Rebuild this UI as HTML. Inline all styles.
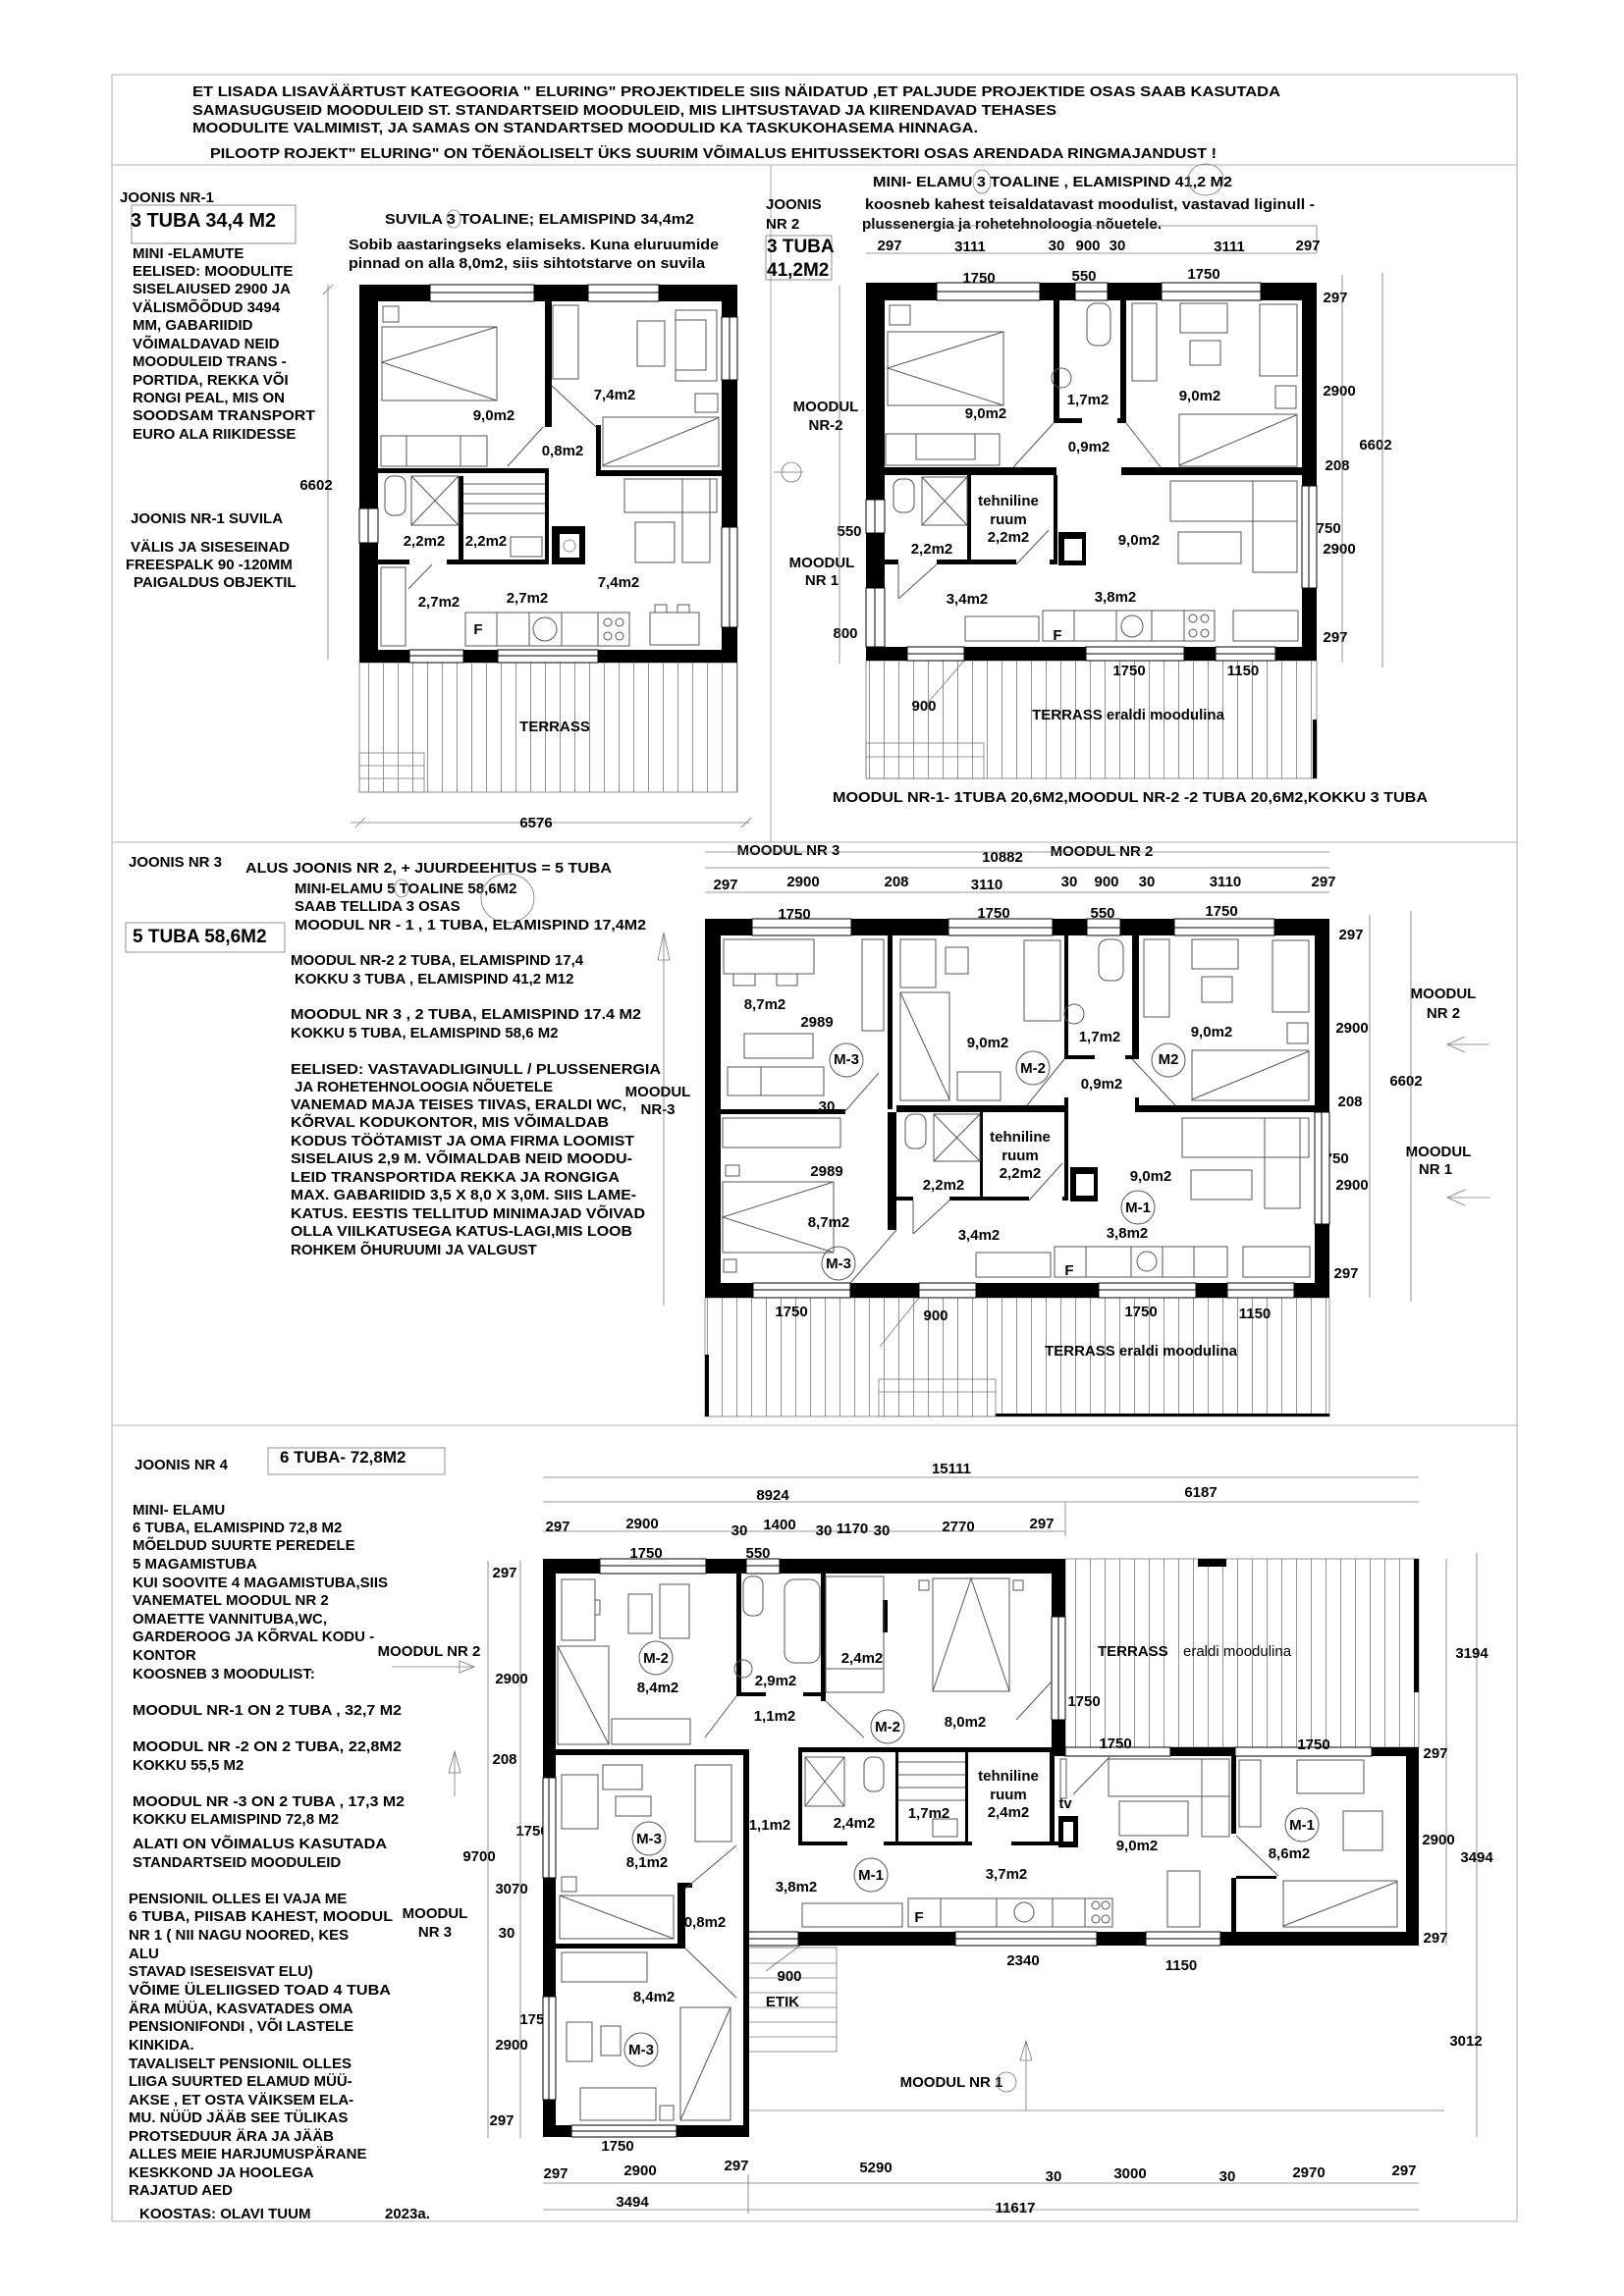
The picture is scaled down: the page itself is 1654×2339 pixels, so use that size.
<!DOCTYPE html>
<html><head><meta charset="utf-8"><style>
html,body{margin:0;padding:0;background:#fff}
svg{display:block}
text{font-family:"Liberation Sans",Arial,sans-serif;font-weight:bold;font-size:15px;fill:#000}
.m{text-anchor:middle}
.f{fill:none;stroke:#555;stroke-width:1}
.l{stroke:#000;stroke-width:1;fill:none}
.g{stroke:#777;stroke-width:0.8;fill:none}
.w{fill:#fff;stroke:#000;stroke-width:1}
</style></head><body>
<svg width="1654" height="2339" viewBox="0 0 1654 2339" xmlns="http://www.w3.org/2000/svg">
<defs>
<pattern id="ter" width="15" height="20" patternUnits="userSpaceOnUse"><line x1="0.5" y1="0" x2="0.5" y2="20" stroke="#777" stroke-width="0.8"/></pattern>
</defs>
<rect width="1654" height="2339" fill="#fff"/>
<!-- frame -->
<g class="g" style="stroke:#999">
<line x1="114" y1="76" x2="1545" y2="76"/><line x1="114" y1="76" x2="114" y2="2263"/><line x1="1545" y1="76" x2="1545" y2="2263"/>
<line x1="114" y1="2263" x2="1545" y2="2263"/><line x1="114" y1="168" x2="1545" y2="168"/><line x1="785" y1="168" x2="785" y2="858"/>
<line x1="114" y1="858" x2="1545" y2="858"/><line x1="114" y1="1452" x2="1545" y2="1452"/>
</g>
<!-- header -->
<g style="font-size:13px">
<text x="196" y="98" textLength="1108" lengthAdjust="spacingAndGlyphs">ET  LISADA LISAVÄÄRTUST  KATEGOORIA " ELURING"  PROJEKTIDELE SIIS NÄIDATUD ,ET PALJUDE PROJEKTIDE OSAS SAAB      KASUTADA</text>
<text x="196" y="117" textLength="880" lengthAdjust="spacingAndGlyphs">SAMASUGUSEID MOODULEID ST. STANDARTSEID MOODULEID, MIS LIHTSUSTAVAD JA KIIRENDAVAD TEHASES</text>
<text x="196" y="135" textLength="800" lengthAdjust="spacingAndGlyphs">MOODULITE VALMIMIST, JA SAMAS  ON STANDARTSED MOODULID  KA TASKUKOHASEMA HINNAGA.</text>
<text x="214" y="161" textLength="1025" lengthAdjust="spacingAndGlyphs">PILOOTP ROJEKT" ELURING" ON TÕENÄOLISELT ÜKS SUURIM VÕIMALUS EHITUSSEKTORI OSAS ARENDADA RINGMAJANDUST !</text>
</g>

<!-- ROW 1 LEFT TEXT -->
<text x="122" y="206">JOONIS NR-1</text>
<rect x="134" y="209" width="167" height="39" class="g"/>
<text x="133" y="231" style="font-size:20px" textLength="148" lengthAdjust="spacingAndGlyphs">3 TUBA 34,4 M2</text>
<g>
<text x="135" y="263">MINI -ELAMUTE</text>
<text x="135" y="281">EELISED: MOODULITE</text>
<text x="135" y="299">SISELAIUSED 2900 JA</text>
<text x="135" y="318">VÄLISMÕÕDUD 3494</text>
<text x="135" y="336">MM, GABARIIDID</text>
<text x="135" y="355">VÕIMALDAVAD NEID</text>
<text x="135" y="373">MOODULEID TRANS -</text>
<text x="135" y="392">PORTIDA, REKKA VÕI</text>
<text x="135" y="410">RONGI PEAL, MIS ON</text>
<text x="135" y="428" textLength="186" lengthAdjust="spacingAndGlyphs">SOODSAM TRANSPORT</text>
<text x="135" y="447">EURO ALA RIIKIDESSE</text>
<text x="133" y="533">JOONIS NR-1 SUVILA</text>
<text x="133" y="562">VÄLIS JA SISESEINAD</text>
<text x="128" y="580">FREESPALK 90 -120MM</text>
<text x="136" y="598">PAIGALDUS OBJEKTIL</text>
</g>
<text x="392" y="228" textLength="315" lengthAdjust="spacingAndGlyphs">SUVILA  3 TOALINE; ELAMISPIND 34,4m2</text>
<ellipse cx="462" cy="223" rx="7" ry="9" class="g"/>
<text x="355" y="254" textLength="377" lengthAdjust="spacingAndGlyphs">Sobib aastaringseks elamiseks. Kuna eluruumide</text>
<text x="355" y="273" textLength="363" lengthAdjust="spacingAndGlyphs">pinnad on alla 8,0m2, siis sihtotstarve on suvila</text>

<!-- PLAN 1 -->
<rect x="366" y="675" width="385" height="132" fill="url(#ter)" stroke="#777" stroke-width="0.8"/>
<rect x="366" y="767" width="66" height="40" fill="#fff" class="g"/>
<line x1="366" y1="780" x2="432" y2="780" class="g"/><line x1="366" y1="793" x2="432" y2="793" class="g"/>
<text x="565" y="745" class="m">TERRASS</text>
<line x1="357" y1="838" x2="764" y2="838" class="g"/><line x1="362" y1="843" x2="372" y2="833" class="g"/><line x1="755" y1="843" x2="765" y2="833" class="g"/>
<text x="546" y="843" class="m">6576</text>
<line x1="334" y1="290" x2="334" y2="672" class="g"/><line x1="329" y1="300" x2="339" y2="290" class="g"/>
<text x="322" y="499" class="m">6602</text>
<!-- windows -->
<g class="w">
<rect x="438" y="290" width="106" height="17"/><rect x="599" y="290" width="72" height="17"/>
<rect x="417" y="662" width="55" height="13"/><rect x="507" y="662" width="102" height="13"/>
<rect x="366" y="518" width="19" height="35"/><rect x="735" y="323" width="16" height="64"/><rect x="735" y="537" width="16" height="102"/>
</g>
<g class="l">
<line x1="438" y1="298" x2="544" y2="298"/><line x1="599" y1="298" x2="671" y2="298"/>
<line x1="417" y1="668" x2="472" y2="668"/><line x1="507" y1="668" x2="609" y2="668"/>
<line x1="375" y1="518" x2="375" y2="553"/><line x1="743" y1="323" x2="743" y2="387"/><line x1="743" y1="537" x2="743" y2="639"/>
</g>
<g fill="#000">
<rect x="366" y="290" width="72" height="17"/><rect x="544" y="290" width="55" height="17"/><rect x="671" y="290" width="80" height="17"/>
<rect x="366" y="662" width="51" height="13"/><rect x="472" y="662" width="35" height="13"/><rect x="609" y="662" width="142" height="13"/>
<rect x="366" y="290" width="19" height="228"/><rect x="366" y="553" width="19" height="122"/>
<rect x="735" y="290" width="16" height="33"/><rect x="735" y="387" width="16" height="150"/><rect x="735" y="639" width="16" height="36"/>
<rect x="555" y="307" width="7" height="128"/><rect x="607" y="433" width="5" height="52"/><rect x="607" y="479" width="128" height="6"/>
<rect x="385" y="477" width="173" height="5"/><rect x="555" y="477" width="4" height="98"/>
<rect x="385" y="570" width="32" height="5"/><rect x="455" y="570" width="104" height="5"/><rect x="467" y="485" width="5" height="90"/>
<rect x="562" y="536" width="34" height="39"/>
</g>
<rect x="570" y="544" width="20" height="24" fill="#fff"/><circle cx="580" cy="556" r="6" class="g"/>
<g class="f">
<rect x="390" y="312" width="16" height="16"/>
<rect x="389" y="333" width="117" height="75"/><polyline points="506,333 389,369 506,408"/>
<rect x="388" y="444" width="108" height="31"/><rect x="414" y="444" width="55" height="31"/>
<rect x="563" y="311" width="26" height="75"/>
<rect x="649" y="327" width="28" height="46"/><rect x="688" y="316" width="42" height="72"/><rect x="688" y="326" width="31" height="51"/>
<rect x="708" y="401" width="23" height="19"/>
<rect x="614" y="425" width="118" height="50"/><line x1="614" y1="474" x2="731" y2="426"/>
<rect x="392" y="485" width="21" height="40" rx="8"/><rect x="419" y="485" width="48" height="50"/><line x1="419" y1="485" x2="467" y2="535"/><line x1="467" y1="485" x2="419" y2="535"/>
<line x1="472" y1="493" x2="555" y2="493"/><line x1="472" y1="503" x2="555" y2="503"/><line x1="472" y1="513" x2="555" y2="513"/><line x1="472" y1="523" x2="555" y2="523"/>
<rect x="520" y="547" width="32" height="20"/>
<rect x="636" y="488" width="94" height="34"/><rect x="695" y="488" width="28" height="85"/><rect x="647" y="532" width="40" height="41"/>
<rect x="474" y="624" width="167" height="34"/><line x1="506" y1="624" x2="506" y2="658"/><line x1="539" y1="624" x2="539" y2="658"/><line x1="572" y1="624" x2="572" y2="658"/><line x1="609" y1="624" x2="609" y2="658"/>
<circle cx="555" cy="641" r="12"/><circle cx="619" cy="634" r="4"/><circle cx="631" cy="634" r="4"/><circle cx="619" cy="648" r="4"/><circle cx="631" cy="648" r="4"/>
<rect x="662" y="624" width="50" height="33"/><rect x="667" y="616" width="12" height="8"/><rect x="690" y="616" width="12" height="8"/>
<rect x="388" y="578" width="25" height="80"/>
<line x1="553" y1="435" x2="517" y2="475"/><line x1="562" y1="393" x2="607" y2="435"/><line x1="440" y1="575" x2="416" y2="600"/>
</g>
<text x="503" y="428" class="m">9,0m2</text><text x="626" y="407" class="m">7,4m2</text><text x="573" y="464" class="m">0,8m2</text>
<text x="432" y="556" class="m">2,2m2</text><text x="495" y="556" class="m">2,2m2</text><text x="630" y="598" class="m">7,4m2</text>
<text x="447" y="618" class="m">2,7m2</text><text x="537" y="614" class="m">2,7m2</text><text x="487" y="646" class="m">F</text>

<!-- ROW 1 RIGHT TEXT -->
<text x="889" y="190" textLength="366" lengthAdjust="spacingAndGlyphs">MINI- ELAMU  3 TOALINE , ELAMISPIND 41,2 M2</text>
<ellipse cx="1000" cy="185" rx="9" ry="12" class="g"/><ellipse cx="1228" cy="183" rx="18" ry="16" class="g"/>
<text x="780" y="213">JOONIS</text><text x="780" y="233">NR 2</text>
<text x="881" y="213" textLength="458" lengthAdjust="spacingAndGlyphs">koosneb kahest teisaldatavast moodulist, vastavad liginull -</text>
<text x="878" y="233" textLength="305" lengthAdjust="spacingAndGlyphs">plussenergia ja rohetehnoloogia nõuetele.</text>
<rect x="780" y="240" width="67" height="45" class="g"/>
<text x="781" y="257" style="font-size:19px">3 TUBA</text><text x="781" y="281" style="font-size:19px">41,2M2</text>
<line x1="882" y1="258" x2="1341" y2="258" class="g"/><line x1="1341" y1="258" x2="1341" y2="230" class="g"/><line x1="882" y1="230" x2="1341" y2="230" class="g"/>
<g class="m"><text x="906" y="255">297</text><text x="988" y="256">3111</text><text x="1076" y="255">30</text><text x="1108" y="255">900</text><text x="1138" y="255">30</text><text x="1252" y="256">3111</text><text x="1332" y="255">297</text>
<text x="997" y="288">1750</text><text x="1104" y="286">550</text><text x="1226" y="284">1750</text>
<text x="1360" y="308">297</text><text x="1364" y="403">2900</text><text x="1401" y="458">6602</text><text x="1362" y="479">208</text><text x="1349" y="543">1750</text><text x="1364" y="564">2900</text><text x="1360" y="654">297</text>
<text x="841" y="419">MOODUL</text><text x="841" y="438">NR-2</text><text x="865" y="546">550</text><text x="837" y="578">MOODUL</text><text x="837" y="596">NR 1</text><text x="861" y="650">800</text>
</g>
<line x1="1367" y1="280" x2="1367" y2="675" class="g"/><line x1="1408" y1="278" x2="1408" y2="680" class="g"/><line x1="855" y1="291" x2="855" y2="676" class="g"/>
<circle cx="806" cy="481" r="10" class="g"/><line x1="788" y1="481" x2="818" y2="481" class="g"/>
<!-- PLAN 2 -->
<rect x="882" y="673" width="459" height="120" fill="url(#ter)" stroke="#777" stroke-width="0.8"/>
<rect x="882" y="757" width="120" height="36" fill="#fff" class="g"/><line x1="882" y1="771" x2="1002" y2="771" class="g"/>
<rect x="1337" y="733" width="4" height="60" fill="#000"/>
<line x1="944" y1="717" x2="982" y2="673" class="g"/>
<g class="w">
<rect x="954" y="288" width="105" height="18"/><rect x="1095" y="288" width="33" height="18"/><rect x="1183" y="288" width="101" height="18"/>
<rect x="924" y="659" width="58" height="14"/><rect x="1106" y="659" width="100" height="14"/><rect x="1238" y="659" width="61" height="14"/>
<rect x="882" y="509" width="19" height="34"/><rect x="882" y="599" width="19" height="60"/><rect x="1326" y="495" width="15" height="104"/>
</g>
<g class="l">
<line x1="954" y1="297" x2="1059" y2="297"/><line x1="1095" y1="297" x2="1128" y2="297"/><line x1="1183" y1="297" x2="1284" y2="297"/>
<line x1="924" y1="666" x2="982" y2="666"/><line x1="1106" y1="666" x2="1206" y2="666"/><line x1="1238" y1="666" x2="1299" y2="666"/>
<line x1="891" y1="509" x2="891" y2="543"/><line x1="891" y1="599" x2="891" y2="659"/><line x1="1333" y1="495" x2="1333" y2="599"/>
</g>
<g fill="#000">
<rect x="882" y="288" width="72" height="18"/><rect x="1059" y="288" width="36" height="18"/><rect x="1128" y="288" width="55" height="18"/><rect x="1284" y="288" width="57" height="18"/>
<rect x="882" y="659" width="42" height="14"/><rect x="982" y="659" width="124" height="14"/><rect x="1206" y="659" width="32" height="14"/><rect x="1299" y="659" width="42" height="14"/>
<rect x="882" y="288" width="19" height="221"/><rect x="882" y="543" width="19" height="56"/>
<rect x="1326" y="288" width="15" height="207"/><rect x="1326" y="599" width="15" height="74"/>
<rect x="1073" y="306" width="6" height="125"/><rect x="1141" y="306" width="6" height="125"/><rect x="1073" y="426" width="29" height="5"/><rect x="1138" y="426" width="9" height="5"/>
<rect x="901" y="476" width="175" height="8"/><rect x="1142" y="476" width="184" height="8"/>
<rect x="901" y="570" width="14" height="5"/><rect x="954" y="570" width="81" height="5"/><rect x="1069" y="570" width="8" height="5"/>
<rect x="985" y="484" width="4" height="86"/><rect x="1073" y="484" width="4" height="91"/>
<rect x="1078" y="542" width="28" height="34"/>
</g>
<rect x="1084" y="549" width="18" height="22" fill="#fff"/>
<g class="f">
<rect x="906" y="311" width="21" height="20"/>
<rect x="904" y="338" width="118" height="75"/><polyline points="1022,338 904,375 1022,413"/>
<rect x="902" y="442" width="116" height="32"/><rect x="933" y="442" width="60" height="26"/>
<rect x="1107" y="309" width="24" height="43" rx="9"/><circle cx="1081" cy="385" r="10"/>
<rect x="1153" y="309" width="25" height="79"/><rect x="1202" y="309" width="48" height="30"/><rect x="1212" y="347" width="31" height="25"/>
<rect x="1283" y="310" width="38" height="73"/><rect x="1299" y="393" width="21" height="23"/>
<rect x="1201" y="422" width="120" height="53"/><line x1="1201" y1="474" x2="1320" y2="423"/>
<line x1="1073" y1="431" x2="1032" y2="476"/><line x1="1147" y1="431" x2="1182" y2="476"/>
<rect x="910" y="488" width="21" height="34" rx="8"/><rect x="939" y="486" width="46" height="49"/><line x1="939" y1="486" x2="985" y2="535"/><line x1="985" y1="486" x2="939" y2="535"/>
<rect x="1192" y="490" width="129" height="41"/><rect x="1276" y="490" width="45" height="93"/><rect x="1200" y="542" width="64" height="32"/>
<rect x="1062" y="622" width="175" height="31"/><line x1="1094" y1="622" x2="1094" y2="653"/><line x1="1137" y1="622" x2="1137" y2="653"/><line x1="1173" y1="622" x2="1173" y2="653"/><line x1="1206" y1="622" x2="1206" y2="653"/>
<circle cx="1153" cy="638" r="11"/><circle cx="1215" cy="630" r="4"/><circle cx="1227" cy="630" r="4"/><circle cx="1215" cy="645" r="4"/><circle cx="1227" cy="645" r="4"/>
<rect x="983" y="628" width="75" height="25"/><rect x="1256" y="622" width="66" height="31"/>
<line x1="915" y1="575" x2="915" y2="610"/><line x1="915" y1="610" x2="954" y2="575"/><line x1="1035" y1="575" x2="1068" y2="540"/>
</g>
<g class="m"><text x="1004" y="426">9,0m2</text><text x="1108" y="412">1,7m2</text><text x="1222" y="408">9,0m2</text><text x="1109" y="460">0,9m2</text>
<text x="1027" y="515">tehniline</text><text x="1027" y="534">ruum</text><text x="1027" y="552">2,2m2</text><text x="949" y="564">2,2m2</text><text x="1160" y="555">9,0m2</text>
<text x="985" y="615">3,4m2</text><text x="1136" y="613">3,8m2</text><text x="1077" y="652">F</text>
<text x="1150" y="688">1750</text><text x="1266" y="688">1150</text><text x="941" y="724">900</text><text x="1149" y="733">TERRASS eraldi moodulina</text></g>
<text x="848" y="817" textLength="606" lengthAdjust="spacingAndGlyphs">MOODUL NR-1- 1TUBA 20,6M2,MOODUL NR-2 -2 TUBA 20,6M2,KOKKU 3 TUBA</text>

<!-- ROW 2 TEXT -->
<text x="131" y="883">JOONIS NR 3</text>
<text x="250" y="889" textLength="373" lengthAdjust="spacingAndGlyphs">ALUS JOONIS NR 2,  + JUURDEEHITUS = 5 TUBA</text>
<text x="300" y="910">MINI-ELAMU  5 TOALINE 58,6M2</text>
<ellipse cx="409" cy="905" rx="7" ry="9" class="g"/><ellipse cx="517" cy="915" rx="27" ry="25" class="g"/>
<text x="300" y="928">SAAB TELLIDA 3 OSAS</text>
<text x="300" y="947" textLength="358" lengthAdjust="spacingAndGlyphs">MOODUL NR - 1 , 1 TUBA, ELAMISPIND 17,4M2</text>
<rect x="128" y="940" width="162" height="30" class="g"/>
<text x="135" y="960" style="font-size:19px">5 TUBA 58,6M2</text>
<text x="296" y="983">MOODUL NR-2   2 TUBA, ELAMISPIND  17,4</text>
<text x="300" y="1002">KOKKU 3 TUBA , ELAMISPIND 41,2 M12</text>
<text x="296" y="1038" textLength="357" lengthAdjust="spacingAndGlyphs">MOODUL NR 3 , 2 TUBA, ELAMISPIND  17.4 M2</text>
<text x="296" y="1057">KOKKU  5 TUBA, ELAMISPIND 58,6 M2</text>
<g>
<text x="296" y="1094" textLength="377" lengthAdjust="spacingAndGlyphs">EELISED:  VASTAVADLIGINULL / PLUSSENERGIA</text>
<text x="300" y="1112">JA ROHETEHNOLOOGIA NÕUETELE</text>
<text x="296" y="1130" textLength="342" lengthAdjust="spacingAndGlyphs">VANEMAD MAJA TEISES  TIIVAS, ERALDI WC,</text>
<text x="296" y="1148" textLength="324" lengthAdjust="spacingAndGlyphs">KÕRVAL KODUKONTOR, MIS VÕIMALDAB</text>
<text x="296" y="1167" textLength="350" lengthAdjust="spacingAndGlyphs">KODUS TÖÖTAMIST JA OMA FIRMA LOOMIST</text>
<text x="296" y="1185" textLength="348" lengthAdjust="spacingAndGlyphs">SISELAIUS 2,9 M. VÕIMALDAB NEID MOODU-</text>
<text x="296" y="1204" textLength="335" lengthAdjust="spacingAndGlyphs">LEID TRANSPORTIDA  REKKA JA RONGIGA</text>
<text x="296" y="1222" textLength="352" lengthAdjust="spacingAndGlyphs">MAX. GABARIIDID 3,5 X 8,0 X 3,0M. SIIS LAME-</text>
<text x="296" y="1241" textLength="361" lengthAdjust="spacingAndGlyphs">KATUS. EESTIS TELLITUD MINIMAJAD VÕIVAD</text>
<text x="296" y="1259" textLength="348" lengthAdjust="spacingAndGlyphs">OLLA VIILKATUSEGA KATUS-LAGI,MIS LOOB</text>
<text x="296" y="1278">ROHKEM ÕHURUUMI JA VALGUST</text>
</g>
<text x="670" y="1117" class="m">MOODUL</text><text x="670" y="1135" class="m">NR-3</text>
<line x1="676" y1="950" x2="676" y2="1330" class="g"/><polygon points="676,950 670,978 682,978" class="g"/>
<!-- PLAN 3 dims -->
<g class="m"><text x="803" y="871">MOODUL NR 3</text><text x="1021" y="878">10882</text><text x="1122" y="872">MOODUL NR 2</text>
<text x="739" y="906">297</text><text x="818" y="903">2900</text><text x="913" y="903">208</text><text x="1005" y="906">3110</text><text x="1089" y="903">30</text><text x="1127" y="903">900</text><text x="1168" y="903">30</text><text x="1248" y="903">3110</text><text x="1348" y="903">297</text>
<text x="809" y="936">1750</text><text x="1012" y="935">1750</text><text x="1123" y="935">550</text><text x="1244" y="933">1750</text>
<text x="1376" y="957">297</text><text x="1377" y="1052">2900</text><text x="1375" y="1127">208</text><text x="1357" y="1185">1750</text><text x="1377" y="1212">2900</text><text x="1371" y="1302">297</text>
<text x="1432" y="1106">6602</text><text x="1470" y="1017">MOODUL</text><text x="1470" y="1037">NR  2</text><text x="1465" y="1178">MOODUL</text><text x="1462" y="1196">NR  1</text>
</g>
<g class="g"><line x1="718" y1="868" x2="1354" y2="868"/><line x1="718" y1="884" x2="1354" y2="884"/><line x1="718" y1="909" x2="1354" y2="909"/>
<line x1="1395" y1="932" x2="1395" y2="1322"/><line x1="1437" y1="928" x2="1437" y2="1326"/>
<line x1="1474" y1="1064" x2="1517" y2="1064"/><polyline points="1492,1056 1474,1064 1492,1072"/><line x1="1474" y1="1220" x2="1517" y2="1220"/><polyline points="1492,1212 1474,1220 1492,1228"/></g>
<!-- PLAN 3 -->
<rect x="718" y="1322" width="636" height="121" fill="url(#ter)" stroke="#777" stroke-width="0.8"/>
<rect x="895" y="1405" width="119" height="38" fill="#fff" class="g"/><line x1="895" y1="1418" x2="1014" y2="1418" class="g"/>
<rect x="718" y="1380" width="4" height="63" fill="#000"/><rect x="1014" y="1440" width="340" height="3" fill="#000"/>
<line x1="936" y1="1322" x2="896" y2="1372" class="g"/>
<g class="w">
<rect x="766" y="936" width="101" height="17"/><rect x="966" y="936" width="106" height="17"/><rect x="1107" y="936" width="34" height="17"/><rect x="1196" y="936" width="102" height="17"/>
<rect x="767" y="1307" width="99" height="15"/><rect x="936" y="1307" width="58" height="15"/><rect x="1119" y="1307" width="99" height="15"/><rect x="1250" y="1307" width="68" height="15"/>
<rect x="1339" y="1133" width="15" height="114"/>
</g>
<g class="l">
<line x1="766" y1="945" x2="867" y2="945"/><line x1="966" y1="945" x2="1072" y2="945"/><line x1="1107" y1="945" x2="1141" y2="945"/><line x1="1196" y1="945" x2="1298" y2="945"/>
<line x1="767" y1="1314" x2="866" y2="1314"/><line x1="936" y1="1314" x2="994" y2="1314"/><line x1="1119" y1="1314" x2="1218" y2="1314"/><line x1="1250" y1="1314" x2="1318" y2="1314"/>
<line x1="1346" y1="1133" x2="1346" y2="1247"/>
</g>
<g fill="#000">
<rect x="718" y="936" width="48" height="17"/><rect x="867" y="936" width="99" height="17"/><rect x="1072" y="936" width="35" height="17"/><rect x="1141" y="936" width="55" height="17"/><rect x="1298" y="936" width="56" height="17"/>
<rect x="718" y="1307" width="49" height="15"/><rect x="866" y="1307" width="70" height="15"/><rect x="994" y="1307" width="125" height="15"/><rect x="1218" y="1307" width="32" height="15"/><rect x="1318" y="1307" width="36" height="15"/>
<rect x="718" y="936" width="16" height="386"/><rect x="1339" y="936" width="15" height="197"/><rect x="1339" y="1247" width="15" height="75"/>
<rect x="904" y="953" width="5" height="177"/><rect x="904" y="1133" width="9" height="120"/><rect x="734" y="1130" width="127" height="5"/>
<rect x="913" y="1126" width="174" height="7"/><rect x="1156" y="1126" width="183" height="7"/><rect x="1084" y="1118" width="4" height="15"/><rect x="1156" y="1118" width="4" height="15"/>
<rect x="1084" y="953" width="4" height="126"/><rect x="1153" y="953" width="7" height="126"/><rect x="1084" y="1075" width="31" height="4"/><rect x="1146" y="1075" width="14" height="4"/>
<rect x="913" y="1219" width="17" height="4"/><rect x="967" y="1219" width="81" height="4"/><rect x="1082" y="1219" width="6" height="4"/>
<rect x="998" y="1133" width="3" height="86"/><rect x="1084" y="1133" width="4" height="90"/>
<rect x="1090" y="1189" width="28" height="35"/>
</g>
<rect x="1096" y="1196" width="18" height="22" fill="#fff"/>
<g class="f">
<rect x="737" y="957" width="92" height="35"/><rect x="747" y="992" width="22" height="12"/><rect x="791" y="992" width="21" height="12"/>
<rect x="878" y="957" width="22" height="93"/><rect x="758" y="1053" width="70" height="25"/><rect x="741" y="1087" width="98" height="29"/><line x1="775" y1="1087" x2="775" y2="1116"/>
<circle cx="862" cy="1080" r="17"/>
<rect x="917" y="957" width="36" height="49"/><rect x="963" y="965" width="23" height="27"/><rect x="1043" y="958" width="37" height="82"/>
<rect x="917" y="1011" width="50" height="110"/><line x1="917" y1="1011" x2="967" y2="1120"/><rect x="975" y="1092" width="44" height="29"/>
<circle cx="1052" cy="1088" r="17"/>
<rect x="1119" y="957" width="25" height="42" rx="9"/><circle cx="1094" cy="1033" r="10"/>
<rect x="1165" y="957" width="26" height="79"/><rect x="1214" y="957" width="47" height="30"/><rect x="1224" y="995" width="31" height="26"/>
<rect x="1296" y="958" width="37" height="73"/><rect x="1311" y="1042" width="21" height="21"/>
<rect x="1214" y="1070" width="119" height="51"/><line x1="1214" y1="1120" x2="1333" y2="1071"/><circle cx="1190" cy="1080" r="17"/>
<line x1="1084" y1="1079" x2="1046" y2="1126"/><line x1="1153" y1="1079" x2="1197" y2="1126"/>
<rect x="736" y="1139" width="120" height="30"/><rect x="739" y="1187" width="14" height="11"/>
<rect x="736" y="1204" width="113" height="72"/><polyline points="849,1204 736,1240 849,1276"/><rect x="737" y="1283" width="13" height="13"/>
<circle cx="854" cy="1287" r="17"/><line x1="866" y1="1307" x2="913" y2="1253"/><line x1="860" y1="1133" x2="895" y2="1093"/>
<rect x="922" y="1135" width="21" height="35" rx="8"/><rect x="951" y="1135" width="47" height="48"/><line x1="951" y1="1135" x2="998" y2="1183"/><line x1="998" y1="1135" x2="951" y2="1183"/>
<rect x="1204" y="1139" width="129" height="40"/><rect x="1288" y="1139" width="36" height="92"/><rect x="1213" y="1192" width="62" height="30"/>
<circle cx="1159" cy="1230" r="17"/>
<rect x="1074" y="1270" width="176" height="31"/><line x1="1106" y1="1270" x2="1106" y2="1301"/><line x1="1152" y1="1270" x2="1152" y2="1301"/><line x1="1184" y1="1270" x2="1184" y2="1301"/><line x1="1216" y1="1270" x2="1216" y2="1301"/>
<circle cx="1168" cy="1285" r="10"/><rect x="994" y="1276" width="76" height="25"/><rect x="1266" y="1270" width="68" height="31"/>
<line x1="930" y1="1223" x2="930" y2="1257"/><line x1="930" y1="1257" x2="967" y2="1223"/><line x1="1048" y1="1223" x2="1082" y2="1185"/>
</g>
<g class="m"><text x="779" y="1028">8,7m2</text><text x="832" y="1046">2989</text><text x="862" y="1084">M-3</text><text x="1006" y="1067">9,0m2</text><text x="1052" y="1093">M-2</text>
<text x="1120" y="1061">1,7m2</text><text x="1190" y="1084">M2</text><text x="1234" y="1056">9,0m2</text><text x="1122" y="1109">0,9m2</text><text x="842" y="1132">30</text>
<text x="1039" y="1163">tehniline</text><text x="1039" y="1182">ruum</text><text x="1039" y="1200">2,2m2</text><text x="842" y="1198">2989</text><text x="961" y="1212">2,2m2</text>
<text x="1172" y="1203">9,0m2</text><text x="1159" y="1235">M-1</text><text x="844" y="1250">8,7m2</text><text x="997" y="1263">3,4m2</text><text x="1148" y="1261">3,8m2</text><text x="854" y="1292">M-3</text><text x="1089" y="1299">F</text>
<text x="806" y="1341">1750</text><text x="953" y="1345">900</text><text x="1162" y="1341">1750</text><text x="1278" y="1343">1150</text><text x="1162" y="1381">TERRASS eraldi moodulina</text></g>

<!-- ROW 3 TEXT -->
<text x="137" y="1497">JOONIS NR 4</text>
<rect x="273" y="1475" width="180" height="27" class="g"/>
<text x="285" y="1490" style="font-size:17px">6 TUBA- 72,8M2</text>
<g>
<text x="135" y="1543">MINI- ELAMU</text>
<text x="135" y="1561">6 TUBA, ELAMISPIND  72,8 M2</text>
<text x="135" y="1579">MÕELDUD SUURTE PEREDELE</text>
<text x="135" y="1598">5 MAGAMISTUBA</text>
<text x="135" y="1617">KUI SOOVITE 4 MAGAMISTUBA,SIIS</text>
<text x="135" y="1635">VANEMATEL  MOODUL NR 2</text>
<text x="135" y="1654">OMAETTE VANNITUBA,WC,</text>
<text x="135" y="1672">GARDEROOG JA KÕRVAL  KODU -</text>
<text x="135" y="1691">KONTOR</text>
<text x="135" y="1710">KOOSNEB 3 MOODULIST:</text>
<text x="135" y="1747" textLength="274" lengthAdjust="spacingAndGlyphs">MOODUL NR-1 ON 2 TUBA , 32,7 M2</text>
<text x="135" y="1784" textLength="274" lengthAdjust="spacingAndGlyphs">MOODUL NR -2 ON 2 TUBA,  22,8M2</text>
<text x="135" y="1803">KOKKU 55,5 M2</text>
<text x="135" y="1840" textLength="277" lengthAdjust="spacingAndGlyphs">MOODUL NR -3 ON 2 TUBA , 17,3 M2</text>
<text x="135" y="1858">KOKKU  ELAMISPIND 72,8 M2</text>
<text x="135" y="1883" textLength="259" lengthAdjust="spacingAndGlyphs">ALATI ON  VÕIMALUS KASUTADA</text>
<text x="135" y="1902">STANDARTSEID MOODULEID</text>
<text x="131" y="1939">PENSIONIL OLLES EI VAJA ME</text>
<text x="131" y="1957" textLength="269" lengthAdjust="spacingAndGlyphs">6 TUBA, PIISAB KAHEST, MOODUL</text>
<text x="131" y="1976">NR 1 ( NII NAGU NOORED, KES</text>
<text x="131" y="1995">ALU</text>
<text x="131" y="2013">STAVAD ISESEISVAT ELU)</text>
<text x="131" y="2032" textLength="267" lengthAdjust="spacingAndGlyphs">VÕIME ÜLELIIGSED TOAD  4 TUBA</text>
<text x="131" y="2051">ÄRA MÜÜA, KASVATADES OMA</text>
<text x="131" y="2069">PENSIONIFONDI , VÕI LASTELE</text>
<text x="131" y="2088">KINKIDA.</text>
<text x="131" y="2107">TAVALISELT PENSIONIL  OLLES</text>
<text x="131" y="2125">LIIGA SUURTED ELAMUD MÜÜ-</text>
<text x="131" y="2144">AKSE , ET OSTA VÄIKSEM ELA-</text>
<text x="131" y="2162">MU. NÜÜD JÄÄB SEE TÜLIKAS</text>
<text x="131" y="2181">PROTSEDUUR ÄRA JA JÄÄB</text>
<text x="131" y="2199">ALLES MEIE HARJUMUSPÄRANE</text>
<text x="131" y="2218">KESKKOND JA HOOLEGA</text>
<text x="131" y="2236">RAJATUD AED</text>
<text x="142" y="2260">KOOSTAS: OLAVI  TUUM</text>
<text x="392" y="2260">2023a.</text>
</g>
<g class="m"><text x="437" y="1687">MOODUL NR 2</text><text x="443" y="1954">MOODUL</text><text x="443" y="1973">NR 3</text>
<text x="514" y="1607">297</text><text x="521" y="1715">2900</text><text x="514" y="1797">208</text><text x="542" y="1870">1750</text><text x="488" y="1896">9700</text><text x="521" y="1929">3070</text><text x="516" y="1974">30</text><text x="546" y="2062">1750</text><text x="521" y="2088">2900</text><text x="511" y="2165">297</text></g>
<g class="g"><line x1="399" y1="1698" x2="483" y2="1698"/><polygon points="483,1698 468,1692 468,1704"/><line x1="463" y1="1784" x2="463" y2="1830"/><polygon points="463,1784 457,1806 469,1806"/>
<line x1="497" y1="1590" x2="497" y2="2178"/><line x1="530" y1="1590" x2="530" y2="2178"/></g>
<!-- PLAN 4 dims -->
<g class="g"><line x1="553" y1="1505" x2="1445" y2="1505"/><line x1="553" y1="1530" x2="1445" y2="1530"/><line x1="553" y1="1560" x2="1085" y2="1560"/><line x1="1085" y1="1530" x2="1085" y2="1565"/>
<line x1="1473" y1="1588" x2="1473" y2="1982"/><line x1="1504" y1="1582" x2="1504" y2="2177"/>
<line x1="553" y1="2224" x2="1445" y2="2224"/><line x1="553" y1="2251" x2="1445" y2="2251"/><line x1="762" y1="2215" x2="762" y2="2255"/>
<line x1="762" y1="2150" x2="1471" y2="2150"/><line x1="1045" y1="2079" x2="1045" y2="2150"/><polygon points="1045,2079 1039,2099 1051,2099"/></g>
<g class="m"><text x="969" y="1501">15111</text><text x="787" y="1528">8924</text><text x="1223" y="1525">6187</text>
<text x="568" y="1560">297</text><text x="654" y="1557">2900</text><text x="753" y="1564">30</text><text x="794" y="1558">1400</text><text x="839" y="1564">30</text><text x="868" y="1562">1170</text><text x="898" y="1564">30</text><text x="976" y="1560">2770</text><text x="1061" y="1557">297</text>
<text x="658" y="1587">1750</text><text x="772" y="1587">550</text>
<text x="1499" y="1689">3194</text><text x="1462" y="1791">297</text><text x="1465" y="1879">2900</text><text x="1504" y="1897">3494</text><text x="1462" y="1979">297</text><text x="1493" y="2084">3012</text>
<text x="566" y="2219">297</text><text x="652" y="2216">2900</text><text x="750" y="2211">297</text><text x="892" y="2213">5290</text><text x="1073" y="2222">30</text><text x="1151" y="2219">3000</text><text x="1250" y="2222">30</text><text x="1333" y="2218">2970</text><text x="1430" y="2216">297</text>
<text x="644" y="2248">3494</text><text x="1034" y="2254">11617</text>
<text x="969" y="2126">MOODUL NR 1</text></g>
<circle cx="1025" cy="2121" r="10" class="g"/>
<!-- PLAN 4 -->
<rect x="1085" y="1588" width="360" height="192" fill="url(#ter)" stroke="#777" stroke-width="0.8"/>
<rect x="1220" y="1588" width="29" height="8" fill="#000"/><rect x="1440" y="1588" width="5" height="136" fill="#000"/>
<rect x="762" y="1984" width="90" height="106" fill="#fff" class="g"/>
<g class="g"><line x1="762" y1="2000" x2="852" y2="2000"/><line x1="762" y1="2015" x2="852" y2="2015"/><line x1="762" y1="2030" x2="852" y2="2030"/><line x1="762" y1="2045" x2="852" y2="2045"/><line x1="762" y1="2060" x2="852" y2="2060"/><line x1="762" y1="2075" x2="852" y2="2075"/><line x1="780" y1="2008" x2="815" y2="1982"/></g>
<g class="w">
<rect x="611" y="1588" width="108" height="15"/><rect x="760" y="1588" width="34" height="15"/>
<rect x="1071" y="1647" width="14" height="105"/>
<rect x="1085" y="1780" width="107" height="9"/><rect x="1258" y="1780" width="139" height="9"/>
<rect x="762" y="1968" width="51" height="14"/><rect x="973" y="1968" width="144" height="14"/><rect x="1167" y="1968" width="76" height="14"/>
<rect x="553" y="1811" width="13" height="102"/><rect x="553" y="2034" width="13" height="105"/><rect x="582" y="2165" width="107" height="12"/>
</g>
<g class="l">
<line x1="611" y1="1595" x2="719" y2="1595"/><line x1="760" y1="1595" x2="794" y2="1595"/><line x1="1078" y1="1647" x2="1078" y2="1752"/>
<line x1="973" y1="1975" x2="1117" y2="1975"/><line x1="1167" y1="1975" x2="1243" y2="1975"/><line x1="762" y1="1975" x2="813" y2="1975"/>
<line x1="559" y1="1811" x2="559" y2="1913"/><line x1="559" y1="2034" x2="559" y2="2139"/><line x1="582" y1="2171" x2="689" y2="2171"/>
</g>
<g fill="#000">
<rect x="553" y="1588" width="58" height="15"/><rect x="719" y="1588" width="41" height="15"/><rect x="794" y="1588" width="291" height="15"/>
<rect x="1071" y="1588" width="14" height="59"/><rect x="1071" y="1752" width="14" height="37"/>
<rect x="553" y="1588" width="13" height="223"/><rect x="553" y="1913" width="13" height="121"/><rect x="553" y="2139" width="13" height="38"/>
<rect x="553" y="2165" width="29" height="12"/><rect x="689" y="2165" width="74" height="12"/><rect x="757" y="1782" width="6" height="395"/>
<rect x="566" y="1782" width="191" height="6"/>
<rect x="813" y="1780" width="260" height="5"/><rect x="1192" y="1780" width="66" height="9"/><rect x="1397" y="1780" width="48" height="9"/>
<rect x="1432" y="1780" width="13" height="202"/>
<rect x="813" y="1968" width="160" height="14"/><rect x="1117" y="1968" width="50" height="14"/><rect x="1243" y="1968" width="202" height="14"/>
<rect x="750" y="1603" width="5" height="124"/><rect x="750" y="1724" width="30" height="4"/><rect x="818" y="1724" width="23" height="4"/><rect x="836" y="1603" width="5" height="130"/>
<rect x="899" y="1630" width="5" height="33"/>
<rect x="813" y="1782" width="4" height="98"/><rect x="813" y="1876" width="50" height="4"/><rect x="900" y="1876" width="90" height="4"/><rect x="1030" y="1876" width="48" height="4"/>
<rect x="912" y="1782" width="3" height="98"/><rect x="983" y="1782" width="3" height="98"/><rect x="1069" y="1782" width="5" height="98"/>
<rect x="1254" y="1789" width="5" height="79"/><rect x="1254" y="1913" width="5" height="55"/><rect x="1259" y="1911" width="41" height="3"/>
<rect x="566" y="1980" width="132" height="5"/><rect x="690" y="1918" width="8" height="67"/><rect x="690" y="1918" width="15" height="5"/>
<rect x="1078" y="1850" width="20" height="32"/>
</g>
<rect x="1083" y="1856" width="10" height="20" fill="#fff"/>
<g class="f">
<rect x="572" y="1609" width="34" height="62"/><rect x="606" y="1630" width="5" height="15"/><rect x="640" y="1624" width="24" height="40"/><rect x="672" y="1614" width="30" height="55"/>
<rect x="568" y="1677" width="52" height="100"/><line x1="568" y1="1677" x2="620" y2="1777"/><rect x="623" y="1751" width="80" height="26"/>
<circle cx="668" cy="1689" r="17"/>
<rect x="757" y="1606" width="20" height="40" rx="8"/><rect x="799" y="1609" width="36" height="85" rx="10"/><circle cx="757" cy="1700" r="9"/>
<rect x="841" y="1606" width="59" height="118"/><line x1="841" y1="1700" x2="900" y2="1700"/>
<rect x="950" y="1608" width="78" height="115"/><polyline points="950,1723 989,1608 1028,1723"/><rect x="936" y="1610" width="10" height="10"/><rect x="1032" y="1610" width="10" height="10"/>
<circle cx="904" cy="1759" r="17"/><line x1="750" y1="1728" x2="718" y2="1770"/><line x1="841" y1="1733" x2="880" y2="1770"/><line x1="1071" y1="1713" x2="1035" y2="1752"/>
<rect x="820" y="1790" width="40" height="50"/><line x1="820" y1="1790" x2="860" y2="1840"/><line x1="860" y1="1790" x2="820" y2="1840"/><rect x="880" y="1790" width="20" height="35" rx="8"/>
<line x1="915" y1="1795" x2="983" y2="1795"/><line x1="915" y1="1808" x2="983" y2="1808"/><line x1="915" y1="1821" x2="983" y2="1821"/><line x1="915" y1="1834" x2="983" y2="1834"/><rect x="950" y="1853" width="25" height="18"/>
<rect x="1080" y="1792" width="6" height="40"/><line x1="1093" y1="1828" x2="1130" y2="1790"/>
<rect x="1129" y="1792" width="123" height="38"/><rect x="1224" y="1792" width="28" height="79"/><rect x="1140" y="1835" width="70" height="35"/>
<rect x="1262" y="1793" width="22" height="68"/><rect x="1321" y="1793" width="68" height="34"/><circle cx="1326" cy="1859" r="17"/>
<rect x="1368" y="1845" width="40" height="40"/><rect x="1307" y="1916" width="116" height="47"/><line x1="1307" y1="1962" x2="1423" y2="1917"/>
<line x1="1259" y1="1870" x2="1302" y2="1911"/>
<circle cx="887" cy="1910" r="17"/>
<rect x="925" y="1934" width="208" height="29"/><line x1="958" y1="1934" x2="958" y2="1963"/><line x1="1015" y1="1934" x2="1015" y2="1963"/><line x1="1072" y1="1934" x2="1072" y2="1963"/><line x1="1105" y1="1934" x2="1105" y2="1963"/>
<circle cx="1043" cy="1948" r="10"/><circle cx="1116" cy="1941" r="4"/><circle cx="1126" cy="1941" r="4"/><circle cx="1116" cy="1955" r="4"/><circle cx="1126" cy="1955" r="4"/>
<rect x="817" y="1939" width="102" height="24"/><rect x="1189" y="1906" width="33" height="57"/>
<rect x="572" y="1808" width="37" height="55"/><rect x="614" y="1798" width="40" height="25"/><rect x="627" y="1830" width="36" height="20"/><rect x="708" y="1798" width="37" height="78"/>
<circle cx="661" cy="1873" r="17"/><rect x="570" y="1931" width="116" height="44"/><line x1="570" y1="1931" x2="686" y2="1975"/><rect x="572" y="1912" width="15" height="15"/>
<line x1="698" y1="1924" x2="750" y2="1880"/>
<rect x="572" y="1989" width="87" height="30"/><rect x="693" y="2045" width="51" height="115"/><line x1="693" y1="2160" x2="744" y2="2045"/>
<rect x="577" y="2060" width="26" height="40"/><rect x="612" y="2064" width="20" height="30"/><circle cx="653" cy="2088" r="17"/><rect x="591" y="2127" width="77" height="33"/><rect x="672" y="2145" width="14" height="15"/>
<line x1="698" y1="1985" x2="750" y2="2035"/>
</g>
<g class="m"><text x="668" y="1694">M-2</text><text x="670" y="1724">8,4m2</text><text x="790" y="1717">2,9m2</text><text x="878" y="1694">2,4m2</text><text x="789" y="1753">1,1m2</text><text x="904" y="1764">M-2</text><text x="983" y="1759">8,0m2</text>
<text x="1104" y="1738">1750</text><text x="1136" y="1781">1750</text><text x="1338" y="1782">1750</text>
<text x="1027" y="1814">tehniline</text><text x="1027" y="1833">ruum</text><text x="1027" y="1851">2,4m2</text><text x="1085" y="1842">tv</text>
<text x="784" y="1864">1,1m2</text><text x="870" y="1862">2,4m2</text><text x="946" y="1852">1,7m2</text><text x="661" y="1878">M-3</text><text x="659" y="1902">8,1m2</text>
<text x="1158" y="1885">9,0m2</text><text x="1326" y="1864">M-1</text><text x="1313" y="1893">8,6m2</text><text x="887" y="1915">M-1</text><text x="811" y="1927">3,8m2</text><text x="1025" y="1914">3,7m2</text>
<text x="936" y="1958">F</text><text x="718" y="1963">0,8m2</text><text x="1042" y="2002">2340</text><text x="1203" y="2007">1150</text><text x="804" y="2018">900</text><text x="797" y="2044">ETIK</text>
<text x="666" y="2039">8,4m2</text><text x="653" y="2093">M-3</text><text x="629" y="2191">1750</text></g>
<text x="1118" y="1687">TERRASS</text><text x="1205" y="1687" style="font-weight:normal">eraldi moodulina</text>
</svg>
</body></html>
